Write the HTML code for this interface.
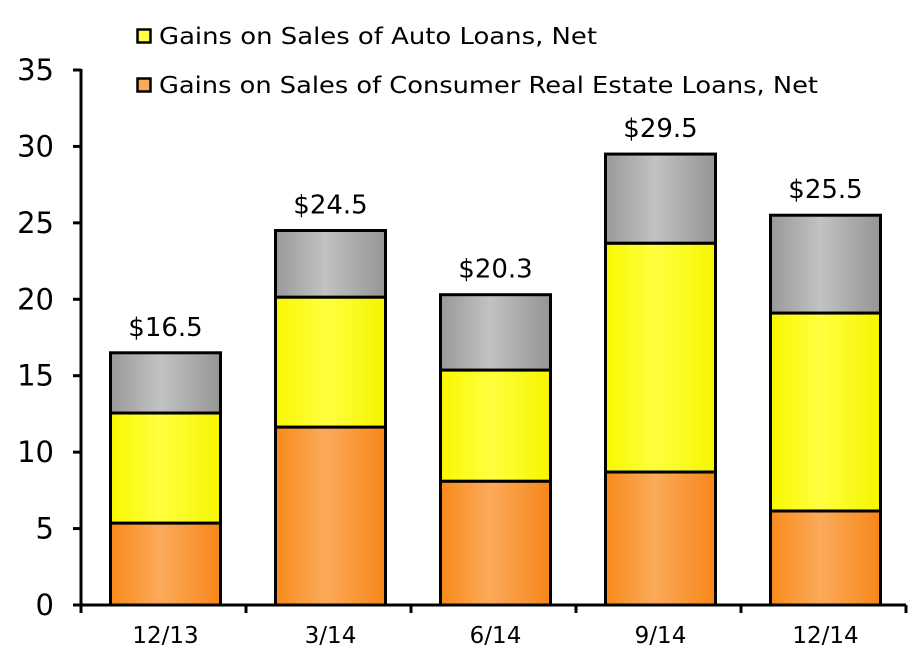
<!DOCTYPE html>
<html><head><meta charset="utf-8"><style>
html,body{margin:0;padding:0;background:#fff;}
svg text{font-family:"DejaVu Sans","Liberation Sans",sans-serif;fill:#000;}
</style></head><body>
<svg id="chart" width="914" height="658" viewBox="0 0 914 658" xmlns="http://www.w3.org/2000/svg">
<defs>
<linearGradient id="gOr" x1="0" x2="1" y1="0" y2="0"><stop offset="0" stop-color="#f88a1c"/><stop offset="0.45" stop-color="#fbaa5a"/><stop offset="1" stop-color="#f7861a"/></linearGradient>
<linearGradient id="gYe" x1="0" x2="1" y1="0" y2="0"><stop offset="0" stop-color="#f8f800"/><stop offset="0.45" stop-color="#ffff40"/><stop offset="1" stop-color="#f5f500"/></linearGradient>
<linearGradient id="gGr" x1="0" x2="1" y1="0" y2="0"><stop offset="0" stop-color="#999"/><stop offset="0.45" stop-color="#c2c2c2"/><stop offset="1" stop-color="#959595"/></linearGradient>
</defs>
<g id="legend">
<g>
<rect x="137.5" y="29.5" width="13" height="13" fill="#ffff40" stroke="#000" stroke-width="2.5"/>
<text x="159" y="44" font-size="23" textLength="438" lengthAdjust="spacingAndGlyphs">Gains on Sales of Auto Loans, Net</text>
</g>
<g>
<rect x="137.5" y="78.5" width="13" height="13" fill="#fbaa5a" stroke="#000" stroke-width="2.5"/>
<text x="159" y="93" font-size="23" textLength="659" lengthAdjust="spacingAndGlyphs">Gains on Sales of Consumer Real Estate Loans, Net</text>
</g>
</g>
<g id="bars"></g>
<g id="axes"></g>
</svg>
<script>
const categories = ["12/13","3/14","6/14","9/14","12/14"];
const realEstate = [5.36,11.64,8.1,8.7,6.15];
const auto = [7.2,8.5,7.27,14.97,12.95];
const totals = [16.5,24.5,20.3,29.5,25.5];
const totalLabels = ["$16.5","$24.5","$20.3","$29.5","$25.5"];
const yTicks = [0,5,10,15,20,25,30,35];

const NS="http://www.w3.org/2000/svg";
const x0=81, x1=906, y0=605, y1=70, yMax=35;
const bw=(x1-x0)/categories.length;
const Y=v=>y0-(v/yMax)*(y0-y1);
const X=i=>x0+bw*i+bw/2;
function mk(tag,a,parent){const e=document.createElementNS(NS,tag);for(const k in a)e.setAttribute(k,a[k]);parent.appendChild(e);return e;}
const bars=document.getElementById('bars'), axes=document.getElementById('axes');
const barW=110;
categories.forEach((c,i)=>{
  const segs=[[0,realEstate[i],'url(#gOr)','real-estate'],[realEstate[i],realEstate[i]+auto[i],'url(#gYe)','auto'],[realEstate[i]+auto[i],totals[i],'url(#gGr)','other']];
  segs.forEach(s=>{
    const r=mk('rect',{x:X(i)-barW/2+2,y:Y(s[1]),width:barW,height:Y(s[0])-Y(s[1]),fill:s[2],stroke:'#000','stroke-width':3},bars);
    
    
  });
  const t=mk('text',{x:X(i)+2,y:Y(totals[i])-17,'font-size':26,'text-anchor':'middle'},bars);
  t.textContent=totalLabels[i];
  
  
  const xl=mk('text',{x:X(i)+2,y:643,'font-size':23,'text-anchor':'middle'},axes);
  xl.textContent=c;
  
  
});
const ya=mk('line',{x1:x0,y1:y1-1,x2:x0,y2:y0+1,stroke:'#000','stroke-width':3},axes);


const xa=mk('line',{x1:x0-8,y1:y0,x2:x1,y2:y0,stroke:'#000','stroke-width':3},axes);


yTicks.forEach(v=>{
  mk('line',{x1:x0-8,y1:Y(v),x2:x0,y2:Y(v),stroke:'#000','stroke-width':3},axes);
  const t=mk('text',{x:54,y:Y(v)+10,'font-size':29,'text-anchor':'end'},axes);
  t.textContent=v;
  
  
});
for(let i=0;i<=categories.length;i++){
  mk('line',{x1:x0+bw*i,y1:y0,x2:x0+bw*i,y2:y0+8,stroke:'#000','stroke-width':3},axes);
}
</script>
</body></html>
